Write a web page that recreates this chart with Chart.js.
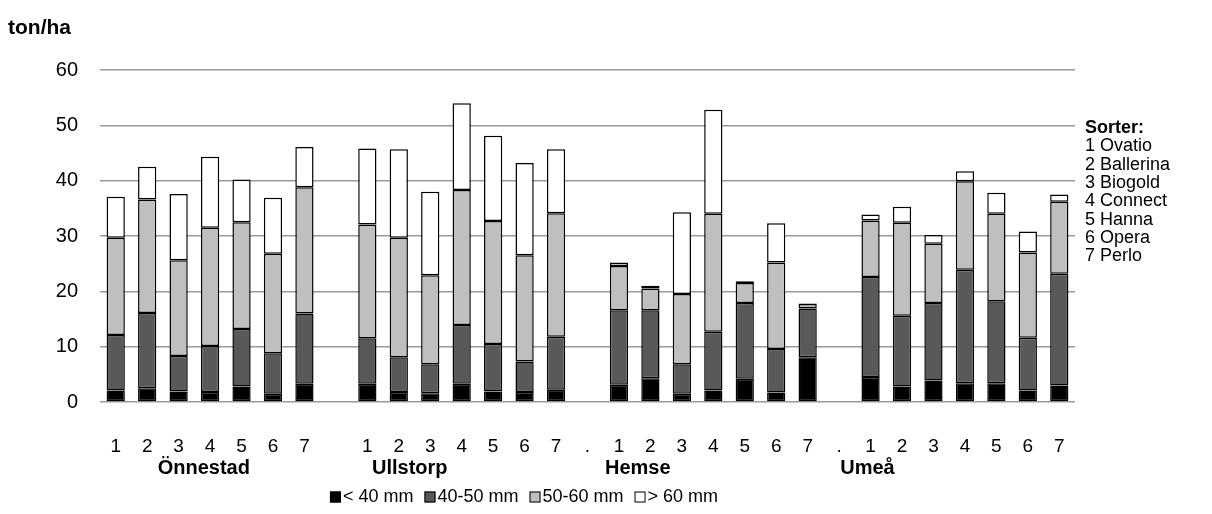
<!DOCTYPE html>
<html>
<head>
<meta charset="utf-8">
<script src="https://cdn.jsdelivr.net/npm/chart.js@4.4.1/dist/chart.umd.min.js"></script>
<style>
  html, body { margin: 0; padding: 0; background: #fff; }
  #wrap { width: 1212px; height: 514px; }
</style>
</head>
<body>
<div id="wrap"><canvas id="myChart" width="1212" height="514"></canvas></div>
<script>
// kategorier (tomma/punkt = mellanrum mellan orterna)
const labels = ['1','2','3','4','5','6','7','',
                '1','2','3','4','5','6','7','.',
                '1','2','3','4','5','6','7','.',
                '1','2','3','4','5','6','7'];

const places = ['Önnestad', 'Ullstorp', 'Hemse', 'Umeå'];
const placeCenters = [2.8, 9.35, 16.6, 23.9];

const sorter = ['1 Ovatio', '2 Ballerina', '3 Biogold', '4 Connect', '5 Hanna', '6 Opera', '7 Perlo'];

// ton/ha per storleksklass
const under40 = [2.1, 2.5, 1.9, 1.8, 2.8, 1.5, 3.3, null,
                 3.3, 1.8, 1.6, 3.3, 1.9, 1.8, 2.2, null,
                 3.1, 4.3, 1.5, 2.1, 4.2, 1.7, 8.1, null,
                 4.5, 2.8, 3.9, 3.4, 3.4, 2.1, 3.0];
const mm40_50 = [10.0, 13.6, 6.4, 8.3, 10.4, 7.3, 12.7, null,
                 8.2, 6.3, 5.2, 10.6, 8.6, 5.5, 9.6, null,
                 13.5, 12.3, 5.3, 10.6, 13.7, 7.9, 8.8, null,
                 18.1, 12.8, 14.0, 20.5, 14.8, 9.5, 20.2];
const mm50_60 = [17.6, 20.5, 17.3, 21.4, 19.3, 18.0, 22.8, null,
                 20.6, 21.6, 16.1, 24.4, 22.2, 19.2, 22.3, null,
                 8.0, 3.9, 12.7, 21.3, 3.6, 15.6, 0.8, null,
                 10.2, 16.8, 10.7, 16.0, 15.8, 15.4, 13.0];
const over60 = [7.4, 5.9, 12.0, 12.8, 7.7, 10.1, 7.3, null,
                13.7, 16.0, 15.1, 15.7, 15.4, 16.7, 11.6, null,
                0.6, 0.5, 14.8, 18.8, 0.3, 7.1, 0.1, null,
                1.1, 2.9, 1.6, 1.8, 3.8, 3.8, 1.3];

const FONT = 'Liberation Sans, Arial, sans-serif';

const mkSet = (label, data, color) => ({
    label: label,
    data: data,
    backgroundColor: color,
    borderColor: '#000',
    borderWidth: 1.5,
    borderSkipped: false,
    barPercentage: 0.58,
    categoryPercentage: 1.0
});

// egna texter: enhet, orter, teckenförklaring, sorter
const extras = {
    id: 'extras',
    afterDraw(chart) {
        const ctx = chart.ctx;
        const x = chart.scales.x;
        const p0 = x.getPixelForValue(0);
        const cw = x.getPixelForValue(1) - p0;
        ctx.save();
        ctx.fillStyle = '#000';
        ctx.textBaseline = 'middle';

        ctx.font = 'bold 21px ' + FONT;
        ctx.textAlign = 'left';
        ctx.fillText('ton/ha', 8, 28);

        ctx.font = 'bold 20px ' + FONT;
        ctx.textAlign = 'center';
        places.forEach((p, i) => ctx.fillText(p, p0 + placeCenters[i] * cw, 468));

        ctx.font = 'bold 18px ' + FONT;
        ctx.textAlign = 'left';
        ctx.fillText('Sorter:', 1085, 128);
        ctx.font = '18px ' + FONT;
        sorter.forEach((s, i) => ctx.fillText(s, 1085, 146.5 + i * 18.3));

        // teckenförklaring
        ctx.font = '18px ' + FONT;
        const box = 11, gapTxt = 2, gapItem = 11;
        const ds = chart.data.datasets;
        let total = 0;
        ds.forEach((d, i) => {
            total += box + gapTxt + ctx.measureText(d.label).width;
            if (i < ds.length - 1) total += gapItem;
        });
        let lx = 524 - total / 2;
        const ly = 497;
        ds.forEach(d => {
            ctx.fillStyle = d.backgroundColor;
            ctx.fillRect(lx, ly - box / 2, box, box);
            ctx.strokeStyle = '#000';
            ctx.lineWidth = 1;
            ctx.strokeRect(lx + 0.5, ly - box / 2 + 0.5, box - 1, box - 1);
            lx += box + gapTxt;
            ctx.fillStyle = '#000';
            ctx.fillText(d.label, lx, ly);
            lx += ctx.measureText(d.label).width + gapItem;
        });
        ctx.restore();
    }
};

const ctx = document.getElementById('myChart').getContext('2d');
const chart = new Chart(ctx, {
    type: 'bar',
    data: {
        labels: labels,
        datasets: [
            mkSet('< 40 mm', under40, '#000000'),
            mkSet('40-50 mm', mm40_50, '#595959'),
            mkSet('50-60 mm', mm50_60, '#bfbfbf'),
            mkSet('> 60 mm', over60, '#ffffff')
        ]
    },
    options: {
        responsive: false,
        animation: false,
        devicePixelRatio: 1,
        layout: { padding: { top: 70, right: 137, bottom: 0, left: 0 } },
        plugins: {
            legend: { display: false },
            tooltip: { enabled: false }
        },
        scales: {
            x: {
                stacked: true,
                grid: { display: false },
                border: { display: false },
                ticks: {
                    color: '#000',
                    font: { family: FONT, size: 19 },
                    padding: 25,
                    autoSkip: false,
                    maxRotation: 0
                },
                afterFit(scale) { scale.height = 112; }
            },
            y: {
                stacked: true,
                min: 0,
                max: 60,
                grid: { color: '#999999', lineWidth: 1.5, drawTicks: false },
                border: { display: false },
                ticks: {
                    stepSize: 10,
                    color: '#000',
                    font: { family: FONT, size: 20 },
                    padding: 22
                },
                afterFit(scale) { scale.width = 100; }
            }
        }
    },
    plugins: [extras]
});
</script>
</body>
</html>
